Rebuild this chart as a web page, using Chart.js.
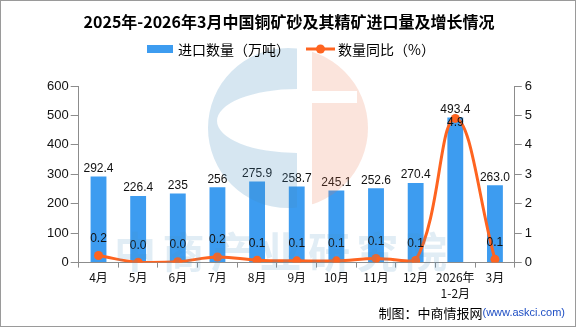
<!DOCTYPE html>
<html>
<head>
<meta charset="utf-8">
<script src="https://cdn.jsdelivr.net/npm/chart.js@4/dist/chart.umd.min.js"></script>
<style>
  html, body { margin: 0; padding: 0; background: #fff; }
  #wrap { width: 576px; height: 327px; position: relative; }
</style>
</head>
<body>
<div id="wrap"><canvas id="chart"></canvas></div>
<script>
// 月份
const months = ['4月', '5月', '6月', '7月', '8月', '9月', '10月', '11月', '12月', ['2026年', '1-2月'], '3月'];
// 进口数量（万吨）
const importQty = [292.4, 226.4, 235, 256, 275.9, 258.7, 245.1, 252.6, 270.4, 493.4, 263.0];
const importQtyText = ['292.4', '226.4', '235', '256', '275.9', '258.7', '245.1', '252.6', '270.4', '493.4', '263.0'];
// 数量同比（%）
const qtyYoY = [0.24, 0.01, 0.03, 0.19, 0.08, 0.06, 0.06, 0.14, 0.07, 4.9, 0.11];
const leftTicks = [0, 100, 200, 300, 400, 500, 600];
const rightTicks = [0, 1, 2, 3, 4, 5, 6];

const BLUE = '#3d9cf0';
const ORANGE = '#fe6420';
const AXIS = '#8c8c8c';
const CJK = '"Noto Sans CJK SC", "Noto Sans", sans-serif';

const decor = {
  id: 'decor',
  afterDatasetsDraw(chart) {
    const ctx = chart.ctx;
    ctx.save();
    ctx.font = '12px "Liberation Sans", Arial, sans-serif';
    ctx.fillStyle = '#111';
    ctx.textAlign = 'center';
    ctx.textBaseline = 'middle';
    const bars = chart.getDatasetMeta(0).data;
    const pts = chart.getDatasetMeta(1).data;
    const barBoxes = [];
    bars.forEach((b, i) => {
      const y = b.y - 8;
      ctx.fillText(importQtyText[i], b.x, y);
      barBoxes.push(y);
    });
    pts.forEach((p, i) => {
      let y = p.y - 17;
      if (Math.abs(y - barBoxes[i]) < 13) y = p.y + 4;
      ctx.fillText(qtyYoY[i].toFixed(1), p.x, y);
    });
    ctx.restore();
  },
  afterDraw(chart) {
    const ctx = chart.ctx;
    ctx.save();
    // watermark logo (translucent over the chart)
    const cx = 288, cy = 128, r = 80;
    ctx.globalAlpha = 0.22;
    ctx.fillStyle = 'rgb(70,140,190)';
    ctx.save();
    ctx.beginPath();
    ctx.rect(0, 0, 297, 327);
    ctx.clip();
    ctx.beginPath();
    ctx.arc(cx, cy, r, 0, Math.PI * 2);
    ctx.ellipse(297, 121, 80, 32, 0, Math.PI * 0.5, Math.PI * 1.5, false);
    ctx.closePath();
    ctx.fill('evenodd');
    ctx.restore();
    ctx.globalAlpha = 0.2;
    ctx.fillStyle = 'rgb(235,120,80)';
    ctx.save();
    ctx.beginPath();
    ctx.rect(312, 0, 100, 91);
    ctx.rect(312, 103, 100, 224);
    ctx.rect(357, 91, 50, 12);
    ctx.clip();
    ctx.beginPath();
    ctx.arc(cx, cy, r, 0, Math.PI * 2);
    ctx.fill();
    ctx.restore();
    // watermark text
    ctx.globalAlpha = 0.16;
    ctx.fillStyle = 'rgb(70,140,190)';
    ctx.font = 'bold 42px ' + CJK;
    ctx.textAlign = 'left';
    ctx.textBaseline = 'middle';
    const wm = '中商产业研究院';
    for (let i = 0; i < wm.length; i++) ctx.fillText(wm[i], 114 + i * 48.5, 252);
    ctx.restore();

    ctx.save();
    // title
    ctx.fillStyle = '#000';
    ctx.textAlign = 'center';
    ctx.textBaseline = 'middle';
    ctx.font = 'bold 16px ' + CJK;
    ctx.fillText('2025年-2026年3月中国铜矿砂及其精矿进口量及增长情况', 289, 22);
    // legend
    ctx.font = '14px ' + CJK;
    ctx.textAlign = 'left';
    ctx.fillStyle = BLUE;
    ctx.fillRect(147, 45, 26, 8);
    ctx.fillStyle = '#000';
    ctx.fillText('进口数量（万吨）', 178, 49.5);
    ctx.strokeStyle = ORANGE;
    ctx.lineWidth = 3;
    ctx.beginPath();
    ctx.moveTo(306, 49);
    ctx.lineTo(335, 49);
    ctx.stroke();
    ctx.fillStyle = ORANGE;
    ctx.beginPath();
    ctx.arc(320.5, 49, 4.5, 0, Math.PI * 2);
    ctx.fill();
    ctx.fillStyle = '#000';
    ctx.fillText('数量同比（%）', 338, 49.5);
    // source
    ctx.textAlign = 'right';
    ctx.font = '11px "Liberation Sans", Arial, sans-serif';
    ctx.fillStyle = '#1f4fc4';
    const src = '(www.askci.com)';
    ctx.fillText(src, 565, 313);
    const w = ctx.measureText(src).width;
    ctx.font = '13px ' + CJK;
    ctx.fillStyle = '#000';
    ctx.fillText('制图：中商情报网', 565 - w, 313);
    // frame
    ctx.strokeStyle = '#9a9a9a';
    ctx.lineWidth = 1;
    ctx.strokeRect(0.5, 0.5, 575, 326);
    ctx.restore();
  }
};

new Chart(document.getElementById('chart'), {
  data: {
    labels: months,
    datasets: [
      {
        type: 'bar',
        label: '进口数量（万吨）',
        data: importQty,
        backgroundColor: BLUE,
        barPercentage: 0.4,
        categoryPercentage: 1,
        yAxisID: 'y',
        order: 2
      },
      {
        type: 'line',
        label: '数量同比（%）',
        data: qtyYoY,
        borderColor: ORANGE,
        backgroundColor: ORANGE,
        borderWidth: 3,
        tension: 0.4,
        pointRadius: 4.5,
        pointBorderWidth: 0,
        pointBackgroundColor: ORANGE,
        yAxisID: 'y1',
        order: 1
      }
    ]
  },
  options: {
    responsive: true,
    maintainAspectRatio: false,
    animation: false,
    layout: { padding: { top: 86, left: 45, right: 41, bottom: 23 } },
    plugins: {
      legend: { display: false },
      tooltip: { enabled: false }
    },
    scales: {
      x: {
        grid: { offset: true, drawOnChartArea: false, tickLength: 5, color: AXIS },
        border: { color: AXIS },
        ticks: { color: '#111', padding: 2, font: { size: 12, family: CJK, lineHeight: 1.35 }, maxRotation: 0, autoSkip: false }
      },
      y: {
        position: 'left',
        min: 0,
        max: 600,
        afterBuildTicks: (axis) => { axis.ticks = leftTicks.map(v => ({ value: v })); },
        grid: { drawOnChartArea: false, tickLength: 8, color: AXIS },
        border: { color: AXIS },
        ticks: { color: '#111', padding: 2, font: { size: 13, family: '"Liberation Sans", Arial, sans-serif' } }
      },
      y1: {
        position: 'right',
        min: 0,
        max: 6,
        afterBuildTicks: (axis) => { axis.ticks = rightTicks.map(v => ({ value: v })); },
        grid: { drawOnChartArea: false, tickLength: 7, color: AXIS },
        border: { color: AXIS },
        ticks: { color: '#111', padding: 3, font: { size: 13, family: '"Liberation Sans", Arial, sans-serif' } }
      }
    }
  },
  plugins: [decor]
});
</script>
</body>
</html>
